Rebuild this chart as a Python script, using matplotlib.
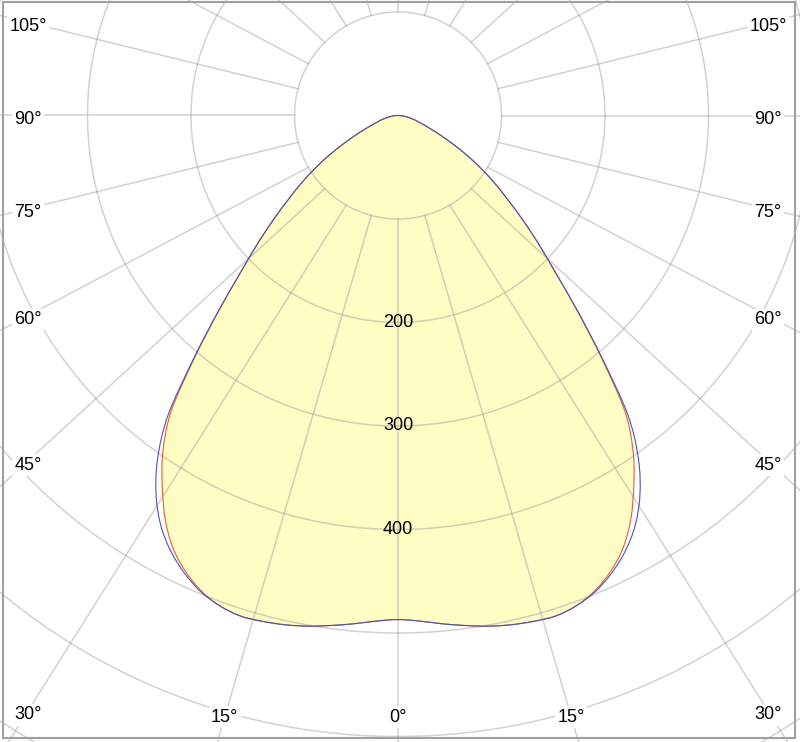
import numpy as np
import matplotlib.pyplot as plt
from matplotlib.patches import Rectangle, PathPatch
from matplotlib.path import Path

plt.rcParams['font.family'] = ['Liberation Sans', 'DejaVu Sans']

# luminous intensity in cd, every 2.5 deg from nadir (0) to horizontal (90)
angles = np.arange(0, 90.1, 2.5)
c90_red = [487, 489, 493, 497, 501, 504, 506, 507, 504, 497, 486, 471, 450,
           424, 396, 360, 306, 257, 216, 185, 158, 134, 114, 95, 77, 60, 46,
           35, 27, 21, 17, 13, 10, 7, 5, 2, 0]
c0_blue = [487, 489, 493, 497, 501, 504, 506, 507, 504, 498, 488, 475, 458,
           435, 405, 365, 308, 258, 216, 185, 158, 134, 114, 95, 77, 60, 46,
           35, 27, 21, 17, 13, 10, 7, 5, 2, 0]

ring_values = [100, 200, 300, 400, 500, 600, 700]
ring_labels = [200, 300, 400]
spoke_angles = np.arange(0, 360, 15)
angle_labels = [105, 90, 75, 60, 45, 30, 15, 0]

px_per_cd = 1.035
cx, cy = 398, 115.5
W, H = 800, 742
spoke_stretch = 1.09   # spokes in the original lean a bit towards horizontal
x_in = 370 / px_per_cd
y_in = -(717 - cy) / px_per_cd


def half_curve(vals, side):
    t = np.radians(angles)
    v = np.array(vals, dtype=float)
    return side * v * np.sin(t), -v * np.cos(t)


def full_curve(vals):
    xl, yl = half_curve(vals, -1)
    xr, yr = half_curve(vals, 1)
    return np.concatenate([xl[::-1], xr[1:]]), np.concatenate([yl[::-1], yr[1:]])


def smooth_path(x, y):
    # closed curve through the points, drawn as cubic bezier segments
    P = np.column_stack([x, y])[:-1]
    n = len(P)
    verts = [P[0]]
    codes = [Path.MOVETO]
    for i in range(n):
        p0, p1, p2, p3 = P[i - 1], P[i], P[(i + 1) % n], P[(i + 2) % n]
        verts += [p1 + (p2 - p0) / 6, p2 - (p3 - p1) / 6, p2]
        codes += [Path.CURVE4] * 3
    return Path(verts, codes)


def spoke(deg):
    t = np.radians(deg)
    x0, y0 = 100 * np.sin(t), -100 * np.cos(t)
    dx, dy = spoke_stretch * np.sin(t), -np.cos(t)
    n = np.hypot(dx, dy)
    return x0, y0, dx / n, dy / n


def label_pos(deg, side):
    x0, y0, dx, dy = spoke(deg)
    x0, dx = side * x0, side * dx
    hits = []
    if abs(dx) > 1e-9:
        hits.append(((side * x_in - x0) / dx, 'side'))
    if dy < -1e-9:
        hits.append(((y_in - y0) / dy, 'bottom'))
    s, where = min(h for h in hits if h[0] > 0)
    x, y = x0 + s * dx, y0 + s * dy
    if where == 'side':
        y -= 4
    return x, y


fig = plt.figure(figsize=(W / 100, H / 100), dpi=100)
ax = fig.add_axes([0, 0, 1, 1])
ax.set_xlim(-cx / px_per_cd, (W - cx) / px_per_cd)
ax.set_ylim(-(H - cy) / px_per_cd, cy / px_per_cd)
ax.axis('off')

# filled curve
red_path = smooth_path(*full_curve(c90_red))
blue_path = smooth_path(*full_curve(c0_blue))
ax.add_patch(PathPatch(red_path, facecolor='#fffcc4', edgecolor='none', zorder=1))

# grid
grid_kw = dict(color='#8f8f8f', alpha=0.4, lw=1.1, zorder=2)
tt = np.linspace(0, 2 * np.pi, 721)
for r in ring_values:
    ax.plot(r * np.cos(tt), r * np.sin(tt), **grid_kw)
for a in spoke_angles:
    x0, y0, dx, dy = spoke(a)
    ax.plot([x0, x0 + 1200 * dx], [y0, y0 + 1200 * dy], **grid_kw)

# curves
ax.add_patch(PathPatch(red_path, fill=False, edgecolor='#e0603a', lw=0.8, zorder=3))
ax.add_patch(PathPatch(blue_path, fill=False, edgecolor='#4a55b5', lw=0.8, zorder=4))

# labels
for r in ring_labels:
    ax.text(0, -r, str(r), ha='center', va='center', fontsize=13, zorder=6)

box = dict(facecolor='white', edgecolor='none', pad=1.5)
for a in angle_labels:
    sides = [1] if a == 0 else [-1, 1]
    for s in sides:
        x, y = label_pos(a, s)
        ax.text(x, y, f"{a}°", ha='center', va='center', fontsize=13,
                bbox=box, zorder=6)

ax.add_patch(Rectangle((3 / W, 4 / H), 792 / W, 736 / H, transform=ax.transAxes,
                       fill=False, edgecolor='#a0a0a0', lw=1.5, zorder=7,
                       clip_on=False))

fig.savefig('out.png', dpi=100, facecolor='white')
